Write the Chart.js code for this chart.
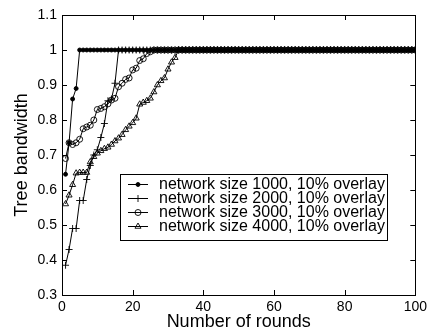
<!DOCTYPE html>
<html>
<head>
<meta charset="utf-8">
<style>
html,body{margin:0;padding:0;background:#fff;}
#c{display:block;}
</style>
<script src="https://cdn.jsdelivr.net/npm/chart.js@4/dist/chart.umd.min.js"></script>
</head>
<body>
<canvas id="c" width="431" height="331"></canvas>
<script>
// ---- data ----
const rounds = [
  1,2,3,4,5,6,7,8,9,10,
  11,12,13,14,15,16,17,18,19,20,
  21,22,23,24,25,26,27,28,29,30,
  31,32,33,34,35,36,37,38,39,40,
  41,42,43,44,45,46,47,48,49,50,
  51,52,53,54,55,56,57,58,59,60,
  61,62,63,64,65,66,67,68,69,70,
  71,72,73,74,75,76,77,78,79,80,
  81,82,83,84,85,86,87,88,89,90,
  91,92,93,94,95,96,97,98,99,100
];
const size1000 = [
  0.645,0.735,0.86,0.89,1,1,1,1,1,1,
  1,1,1,1,1,1,1,1,1,1,
  1,1,1,1,1,1,1,1,1,1,
  1,1,1,1,1,1,1,1,1,1,
  1,1,1,1,1,1,1,1,1,1,
  1,1,1,1,1,1,1,1,1,1,
  1,1,1,1,1,1,1,1,1,1,
  1,1,1,1,1,1,1,1,1,1,
  1,1,1,1,1,1,1,1,1,1,
  1,1,1,1,1,1,1,1,1,1
];
const size2000 = [
  0.385,0.43,0.49,0.49,0.57,0.57,0.63,0.67,0.70,0.715,
  0.75,0.79,0.855,0.86,0.905,1,1,1,1,1,
  1,1,1,1,1,1,1,1,1,1,
  1,1,1,1,1,1,1,1,1,1,
  1,1,1,1,1,1,1,1,1,1,
  1,1,1,1,1,1,1,1,1,1,
  1,1,1,1,1,1,1,1,1,1,
  1,1,1,1,1,1,1,1,1,1,
  1,1,1,1,1,1,1,1,1,1,
  1,1,1,1,1,1,1,1,1,1
];
const size3000 = [
  0.69,0.735,0.73,0.735,0.745,0.775,0.78,0.785,0.80,0.83,
  0.833,0.838,0.846,0.857,0.862,0.895,0.905,0.916,0.92,0.943,
  0.948,0.97,0.975,0.99,0.995,1,1,1,1,1,
  1,1,1,1,1,1,1,1,1,1,
  1,1,1,1,1,1,1,1,1,1,
  1,1,1,1,1,1,1,1,1,1,
  1,1,1,1,1,1,1,1,1,1,
  1,1,1,1,1,1,1,1,1,1,
  1,1,1,1,1,1,1,1,1,1,
  1,1,1,1,1,1,1,1,1,1
];
const size4000 = [
  0.56,0.585,0.615,0.648,0.65,0.65,0.65,0.68,0.695,0.705,
  0.712,0.718,0.722,0.73,0.74,0.748,0.758,0.772,0.782,0.792,
  0.805,0.845,0.85,0.855,0.862,0.88,0.90,0.912,0.92,0.945,
  0.965,0.978,1,1,1,1,1,1,1,1,
  1,1,1,1,1,1,1,1,1,1,
  1,1,1,1,1,1,1,1,1,1,
  1,1,1,1,1,1,1,1,1,1,
  1,1,1,1,1,1,1,1,1,1,
  1,1,1,1,1,1,1,1,1,1,
  1,1,1,1,1,1,1,1,1,1
];
const seriesLabels = [
  'network size 1000, 10% overlay',
  'network size 2000, 10% overlay',
  'network size 3000, 10% overlay',
  'network size 4000, 10% overlay'
];
const xTicks = [0,20,40,60,80,100];
const yTicks = [0.3,0.4,0.5,0.6,0.7,0.8,0.9,1.0,1.1];
const xTitle = 'Number of rounds';
const yTitle = 'Tree bandwidth';

// ---- styling ----
const FONT = '"Liberation Sans", Arial, Helvetica, sans-serif';
const pts = v => v.map((y, i) => ({x: rounds[i], y}));
const styles = [
  {pointStyle: 'circle', radius: 2, fill: '#000'},
  {pointStyle: 'cross', radius: 3.5, fill: 'rgba(0,0,0,0)'},
  {pointStyle: 'circle', radius: 3, fill: 'rgba(0,0,0,0)'},
  {pointStyle: 'triangle', radius: 3.5, fill: 'rgba(0,0,0,0)'}
];
const seriesData = [size1000, size2000, size3000, size4000];

const datasets = seriesData.map((d, i) => ({
  label: seriesLabels[i],
  data: pts(d),
  borderColor: '#000',
  borderWidth: 1,
  backgroundColor: styles[i].fill,
  pointStyle: styles[i].pointStyle,
  pointRadius: styles[i].radius,
  pointBorderColor: '#000',
  pointBorderWidth: 0.9,
  pointBackgroundColor: styles[i].fill,
  tension: 0,
  fill: false
}));

function drawMarker(ctx, style, x, y) {
  const r = style.radius;
  ctx.save();
  ctx.strokeStyle = '#000';
  ctx.fillStyle = style.fill;
  ctx.lineWidth = 0.9;
  ctx.beginPath();
  if (style.pointStyle === 'circle') {
    ctx.arc(x, y, r, 0, Math.PI * 2);
    ctx.fill();
    ctx.stroke();
  } else if (style.pointStyle === 'cross') {
    ctx.moveTo(x - r, y); ctx.lineTo(x + r, y);
    ctx.moveTo(x, y - r); ctx.lineTo(x, y + r);
    ctx.stroke();
  } else if (style.pointStyle === 'triangle') {
    ctx.moveTo(x, y - r);
    ctx.lineTo(x + r * Math.cos(Math.PI / 6), y + r / 2);
    ctx.lineTo(x - r * Math.cos(Math.PI / 6), y + r / 2);
    ctx.closePath();
    ctx.fill();
    ctx.stroke();
  }
  ctx.restore();
}

const framePlugin = {
  id: 'frame',
  afterDatasetsDraw(chart) {
    const ctx = chart.ctx;
    const a = chart.chartArea;
    const xs = chart.scales.x, ys = chart.scales.y;
    const tl = 5;
    ctx.save();
    ctx.strokeStyle = '#000';
    ctx.lineWidth = 1;
    ctx.strokeRect(Math.round(a.left) + 0.5, Math.round(a.top) + 0.5,
      Math.round(a.right - a.left), Math.round(a.bottom - a.top));
    ctx.beginPath();
    xTicks.forEach(v => {
      const px = Math.round(xs.getPixelForValue(v)) + 0.5;
      ctx.moveTo(px, a.bottom); ctx.lineTo(px, a.bottom - tl);
      ctx.moveTo(px, a.top); ctx.lineTo(px, a.top + tl);
    });
    yTicks.forEach(v => {
      const py = Math.round(ys.getPixelForValue(v)) + 0.5;
      ctx.moveTo(a.left, py); ctx.lineTo(a.left + tl, py);
      ctx.moveTo(a.right, py); ctx.lineTo(a.right - tl, py);
    });
    ctx.stroke();

    // legend box
    const bx = 120, by = 174, bw = 267, bh = 66;
    ctx.fillStyle = '#fff';
    ctx.fillRect(bx, by, bw, bh);
    ctx.strokeRect(bx + 0.5, by + 0.5, bw, bh);
    ctx.font = '16px ' + FONT;
    ctx.textBaseline = 'middle';
    ctx.textAlign = 'left';
    ctx.fillStyle = '#000';
    seriesLabels.forEach((lab, i) => {
      const cy = by + 10 + i * 14;
      ctx.beginPath();
      ctx.moveTo(128, cy + 0.5); ctx.lineTo(148, cy + 0.5);
      ctx.lineWidth = 1;
      ctx.stroke();
      drawMarker(ctx, styles[i], 138, cy + 0.5);
      ctx.fillStyle = '#000';
      ctx.fillText(lab, 159, cy + 1);
    });
    ctx.restore();
  }
};

new Chart(document.getElementById('c'), {
  type: 'line',
  data: {datasets},
  plugins: [framePlugin],
  options: {
    responsive: false,
    animation: false,
    devicePixelRatio: 1,
    layout: {padding: {top: 15, right: 15, left: 0, bottom: 0}},
    plugins: {legend: {display: false}, tooltip: {enabled: false}},
    scales: {
      x: {
        type: 'linear',
        min: 0, max: 100,
        afterBuildTicks: s => { s.ticks = xTicks.map(v => ({value: v})); },
        afterFit: s => { s.height = 36; },
        grid: {display: false, drawTicks: false},
        border: {display: false},
        ticks: {color: '#000', padding: 4, maxRotation: 0, font: {family: FONT, size: 14},
          callback: v => String(v)},
        title: {display: true, text: xTitle, color: '#000', padding: {top: 0, bottom: 0},
          font: {family: FONT, size: 18, lineHeight: 1}}
      },
      y: {
        type: 'linear',
        min: 0.3, max: 1.1,
        afterBuildTicks: s => { s.ticks = yTicks.map(v => ({value: v})); },
        afterFit: s => { s.width = 62; },
        grid: {display: false, drawTicks: false},
        border: {display: false},
        ticks: {color: '#000', padding: 5, font: {family: FONT, size: 14},
          callback: v => String(+(+v).toFixed(1))},
        title: {display: true, text: yTitle, color: '#000', padding: {top: 13, bottom: 0},
          font: {family: FONT, size: 18, lineHeight: 1}}
      }
    }
  }
});
</script>
</body>
</html>
